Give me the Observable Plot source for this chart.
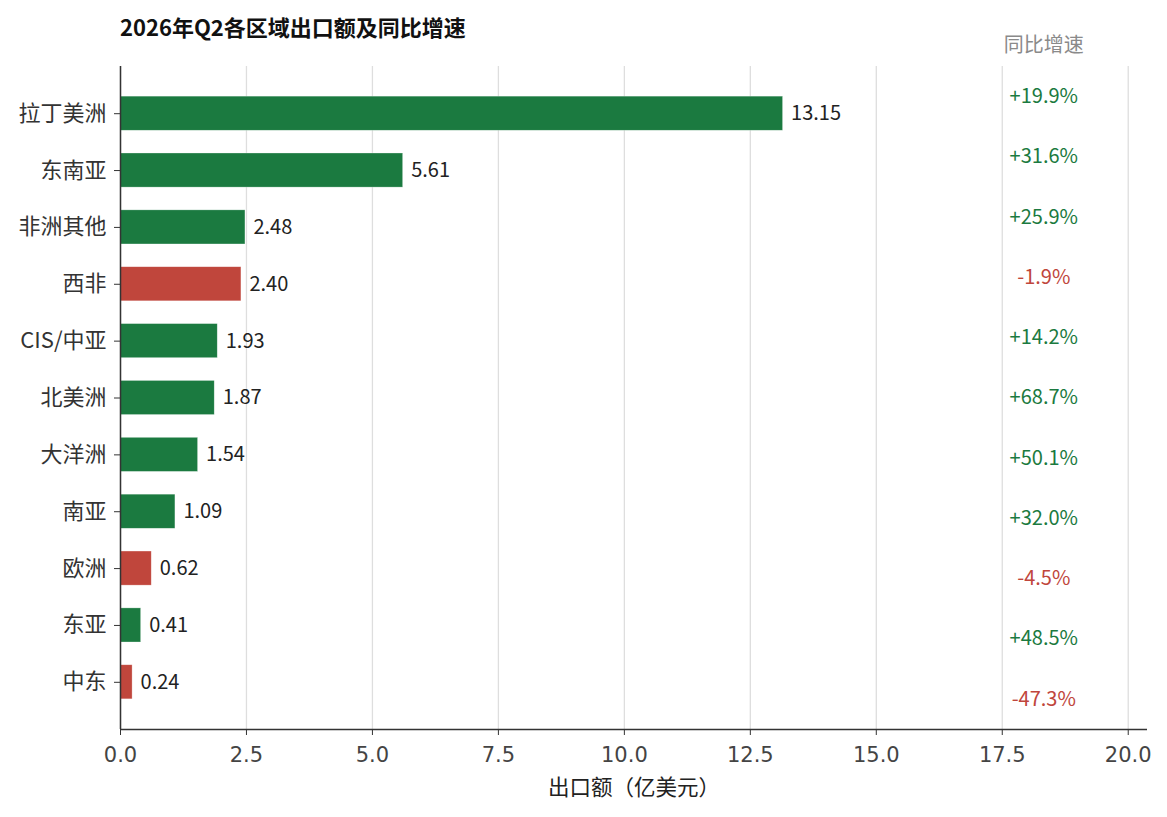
<!DOCTYPE html>
<html>
<head>
<meta charset="utf-8">
<script src="https://cdn.jsdelivr.net/npm/d3@7"></script>
<script src="https://cdn.jsdelivr.net/npm/@observablehq/plot@0.6"></script>
<style>
  html, body { margin: 0; padding: 0; background: #fff; }
  body { position: relative; width: 1167px; height: 817px; overflow: hidden; font-family: "Noto Sans CJK SC", "Noto Sans", sans-serif; }
  #title { position: absolute; left: 120px; top: 12px; font-size: 22px; line-height: 28px; font-weight: bold; color: #111; z-index: 2; }
  g[aria-label="x-axis tick label"] text, g[aria-label="x-axis tick label"] { font-family: "DejaVu Sans", sans-serif !important; }
</style>
</head>
<body>
<div id="title">2026年Q2各区域出口额及同比增速</div>
<div id="chart"></div>
<script>
const regions = ["拉丁美洲","东南亚","非洲其他","西非","CIS/中亚","北美洲","大洋洲","南亚","欧洲","东亚","中东"];
const exportsVal = [13.15,5.61,2.48,2.40,1.93,1.87,1.54,1.09,0.62,0.41,0.24];
const growth = [19.9,31.6,25.9,-1.9,14.2,68.7,50.1,32.0,-4.5,48.5,-47.3];
const xTicks = [0,2.5,5,7.5,10,12.5,15,17.5,20];

const GREEN = "#1b7a40", RED = "#c0463c";
const n = regions.length;
const data = regions.map((r, i) => ({region: r, i, value: exportsVal[i], growth: growth[i]}));

const xMax = d3.max(exportsVal) * 1.55;
const barH = 0.6;
const yPad = (n - 1 + barH) * 0.05;
const yMin = -barH / 2 - yPad, yMaxD = n - 1 + barH / 2 + yPad;
const span = yMaxD - yMin;
// growth column placed at evenly spaced axes fractions
const gy = i => yMin + span * (i + 0.5) / n;
const fmtG = g => (g > 0 ? "+" : "") + g.toFixed(1) + "%";
const font = "Noto Sans CJK SC";

const chart = Plot.plot({
  width: 1167,
  height: 817,
  marginTop: 66,
  marginBottom: 88,
  marginLeft: 120,
  marginRight: 20,
  style: {fontFamily: font, background: "#fff"},
  x: {domain: [0, xMax]},
  y: {domain: [yMaxD, yMin]},
  marks: [
    Plot.gridX(xTicks, {stroke: "#dedede", strokeOpacity: 1, strokeWidth: 1.3}),
    Plot.rectX(data, {
      x1: 0, x2: "value",
      y1: d => d.i - barH / 2, y2: d => d.i + barH / 2,
      fill: d => d.growth >= 0 ? GREEN : RED,
      stroke: "#fff", strokeWidth: 0.6, strokeOpacity: 0.5
    }),
    Plot.text(data, {
      x: "value", y: "i", text: d => d.value.toFixed(2),
      dx: 8, textAnchor: "start", fontSize: 20, fill: "#222", fontFamily: font
    }),
    Plot.text(data, {
      x: () => xMax * 0.899, y: d => gy(d.i), text: d => fmtG(d.growth),
      textAnchor: "middle", fontSize: 20, fontFamily: font,
      fill: d => d.growth >= 0 ? GREEN : RED
    }),
    Plot.text(["同比增速"], {
      x: () => xMax * 0.899, y: () => yMin - span * 0.032, text: d => d,
      textAnchor: "middle", fontSize: 20, fill: "#8a8a8a", fontFamily: font
    }),
    Plot.ruleX([0], {stroke: "#333", strokeWidth: 1.5}),
    Plot.ruleY([yMaxD], {stroke: "#333", strokeWidth: 1.5}),
    Plot.axisY({
      ticks: d3.range(n), tickFormat: i => regions[i],
      tickSize: 6, tickPadding: 8, fontSize: 22, color: "#333", stroke: "#333", label: null
    }),
    Plot.axisX({
      ticks: xTicks, tickFormat: d3.format(".1f"),
      tickSize: 6, tickPadding: 12, fontSize: 21, fontFamily: "DejaVu Sans",
      color: "#444", stroke: "#333", label: null
    }),
    Plot.text(["出口额（亿美元）"], {
      x: () => xMax * 0.5, y: () => yMaxD, text: d => d,
      dy: 59, textAnchor: "middle", fontSize: 21.5, fill: "#222", fontFamily: font
    })
  ]
});
d3.select(chart).selectAll('g[aria-label="x-axis tick label"]').attr("font-family", "DejaVu Sans");
document.getElementById("chart").appendChild(chart);
</script>
</body>
</html>
